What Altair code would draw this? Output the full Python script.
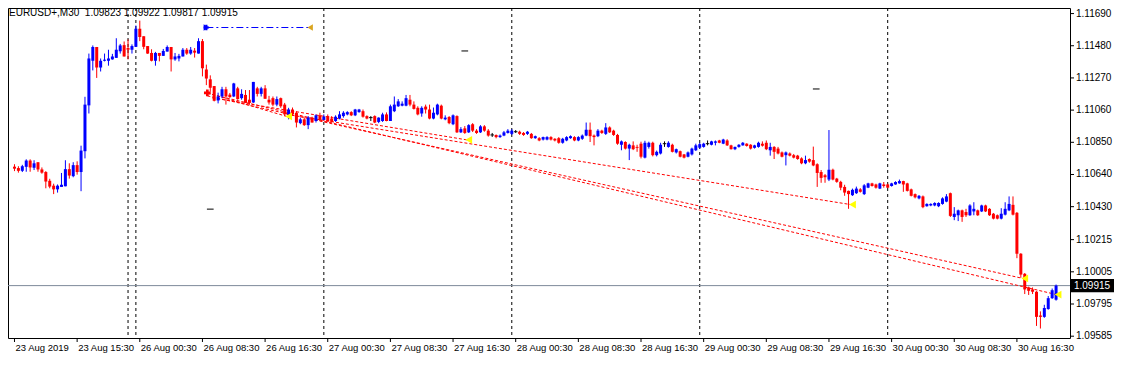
import altair as alt
import pandas as pd
import numpy as np

SYMBOL = "EURUSD+,M30"

OPEN = [1.10691,1.10682,1.10664,1.10690,1.10731,1.10684,1.10720,1.10673,1.10656,1.10599,
1.10567,1.10543,1.10559,1.10563,1.10675,1.10629,1.10701,1.10656,1.10792,1.11091,
1.11382,1.11472,1.11338,1.11382,1.11382,1.11391,1.11401,1.11444,1.11484,1.11465,
1.11454,1.11473,1.11591,1.11542,1.11478,1.11433,1.11382,1.11433,1.11414,1.11442,
1.11472,1.11391,1.11397,1.11410,1.11454,1.11429,1.11448,1.11429,1.11510,1.11325,
1.11261,1.11217,1.11123,1.11149,1.11196,1.11161,1.11149,1.11202,1.11138,1.11159,
1.11128,1.11110,1.11202,1.11166,1.11202,1.11128,1.11138,1.11096,1.11138,1.11096,
1.11032,1.11064,1.11043,1.10975,1.11000,1.10962,1.11011,1.10989,1.11026,1.10996,
1.11021,1.11005,1.10989,1.11005,1.11021,1.11032,1.11047,1.11026,1.11047,1.11053,
1.11021,1.11011,1.11021,1.10983,1.10989,1.11032,1.10989,1.11053,1.11085,1.11089,
1.11089,1.11128,1.11096,1.11075,1.11038,1.11083,1.11064,1.11005,1.11032,1.11089,
1.11000,1.11015,1.10968,1.11021,1.10915,1.10941,1.10915,1.10968,1.10926,1.10915,
1.10954,1.10926,1.10898,1.10898,1.10884,1.10894,1.10911,1.10905,1.10919,1.10919,
1.10911,1.10905,1.10905,1.10877,1.10877,1.10868,1.10868,1.10884,1.10873,1.10877,
1.10847,1.10862,1.10877,1.10884,1.10862,1.10873,1.10894,1.10932,1.10894,1.10890,
1.10926,1.10905,1.10947,1.10926,1.10898,1.10834,1.10852,1.10809,1.10830,1.10820,
1.10841,1.10750,1.10820,1.10847,1.10766,1.10777,1.10841,1.10820,1.10834,1.10784,
1.10792,1.10771,1.10756,1.10771,1.10798,1.10815,1.10820,1.10841,1.10834,1.10847,
1.10862,1.10841,1.10862,1.10830,1.10805,1.10820,1.10830,1.10841,1.10834,1.10814,
1.10820,1.10841,1.10847,1.10798,1.10820,1.10809,1.10784,1.10766,1.10777,1.10766,
1.10763,1.10745,1.10713,1.10741,1.10734,1.10707,1.10656,1.10635,1.10607,1.10671,
1.10613,1.10592,1.10559,1.10533,1.10505,1.10518,1.10543,1.10512,1.10554,1.10582,
1.10575,1.10548,1.10575,1.10575,1.10565,1.10575,1.10582,1.10597,1.10582,1.10543,
1.10512,1.10484,1.10497,1.10433,1.10438,1.10438,1.10433,1.10448,1.10463,1.10518,
1.10363,1.10374,1.10406,1.10395,1.10374,1.10399,1.10406,1.10399,1.10438,1.10416,
1.10384,1.10374,1.10352,1.10378,1.10406,1.10442,1.10390,1.10123,1.09992,1.09903,
1.09890,1.09875,1.09720,1.09711,1.09762,1.09833,1.09823]

HIGH = [1.10707,1.10694,1.10703,1.10739,1.10739,1.10733,1.10720,1.10686,1.10662,1.10612,
1.10580,1.10575,1.10650,1.10733,1.10713,1.10720,1.10726,1.10828,1.11147,1.11429,
1.11482,1.11472,1.11397,1.11429,1.11454,1.11427,1.11529,1.11492,1.11508,1.11521,
1.11489,1.11612,1.11644,1.11542,1.11478,1.11457,1.11440,1.11433,1.11459,1.11482,
1.11472,1.11433,1.11427,1.11465,1.11465,1.11472,1.11465,1.11529,1.11524,1.11357,
1.11287,1.11217,1.11174,1.11212,1.11212,1.11172,1.11238,1.11212,1.11196,1.11191,
1.11191,1.11244,1.11212,1.11212,1.11223,1.11153,1.11149,1.11149,1.11142,1.11107,
1.11075,1.11077,1.11053,1.11011,1.11011,1.11021,1.11017,1.11032,1.11043,1.11032,
1.11032,1.11021,1.11026,1.11053,1.11053,1.11053,1.11053,1.11068,1.11068,1.11064,
1.11026,1.11021,1.11026,1.11013,1.11043,1.11045,1.11096,1.11149,1.11132,1.11117,
1.11159,1.11159,1.11117,1.11085,1.11085,1.11096,1.11096,1.11077,1.11102,1.11096,
1.11026,1.11021,1.11032,1.11026,1.10949,1.10956,1.10968,1.10975,1.10936,1.10962,
1.10962,1.10936,1.10911,1.10901,1.10901,1.10924,1.10936,1.10936,1.10930,1.10926,
1.10917,1.10924,1.10911,1.10894,1.10884,1.10887,1.10890,1.10890,1.10877,1.10884,
1.10879,1.10890,1.10895,1.10890,1.10890,1.10901,1.10979,1.10979,1.10901,1.10936,
1.10932,1.10975,1.10954,1.10932,1.10905,1.10862,1.10857,1.10841,1.10856,1.10834,
1.10854,1.10860,1.10854,1.10854,1.10796,1.10847,1.10856,1.10857,1.10841,1.10809,
1.10796,1.10774,1.10790,1.10815,1.10841,1.10847,1.10847,1.10862,1.10860,1.10862,
1.10866,1.10873,1.10870,1.10834,1.10822,1.10838,1.10852,1.10844,1.10838,1.10834,
1.10854,1.10856,1.10862,1.10847,1.10825,1.10820,1.10790,1.10790,1.10784,1.10774,
1.10768,1.10752,1.10763,1.10745,1.10822,1.10713,1.10669,1.10643,1.10930,1.10678,
1.10618,1.10599,1.10573,1.10535,1.10548,1.10561,1.10551,1.10577,1.10586,1.10586,
1.10580,1.10586,1.10591,1.10580,1.10586,1.10596,1.10607,1.10599,1.10586,1.10548,
1.10516,1.10506,1.10503,1.10452,1.10452,1.10459,1.10459,1.10491,1.10512,1.10522,
1.10427,1.10411,1.10411,1.10416,1.10446,1.10459,1.10411,1.10443,1.10443,1.10420,
1.10389,1.10379,1.10420,1.10459,1.10497,1.10497,1.10395,1.10127,1.09997,1.09908,
1.09903,1.09879,1.09747,1.09790,1.09847,1.09896,1.09922]

LOW = [1.10662,1.10652,1.10656,1.10658,1.10658,1.10669,1.10658,1.10645,1.10550,1.10550,
1.10512,1.10522,1.10559,1.10563,1.10613,1.10622,1.10639,1.10531,1.10745,1.11038,
1.11319,1.11270,1.11312,1.11378,1.11350,1.11389,1.11401,1.11429,1.11410,1.11391,
1.11429,1.11473,1.11510,1.11457,1.11427,1.11378,1.11350,1.11378,1.11414,1.11442,
1.11312,1.11382,1.11378,1.11410,1.11421,1.11421,1.11403,1.11429,1.11280,1.11223,
1.11180,1.11117,1.11104,1.11138,1.11096,1.11140,1.11145,1.11128,1.11128,1.11107,
1.11096,1.11107,1.11149,1.11149,1.11134,1.11096,1.11085,1.11085,1.11075,1.11021,
1.11000,1.11026,1.10947,1.10968,1.10957,1.10936,1.10979,1.10979,1.10989,1.10994,
1.10983,1.10979,1.10983,1.11000,1.11011,1.11026,1.11021,1.11021,1.11043,1.11011,
1.11000,1.10989,1.10975,1.10975,1.10983,1.10987,1.10989,1.11047,1.11081,1.11085,
1.11085,1.11085,1.11064,1.11026,1.11017,1.11038,1.11000,1.11000,1.11026,1.11000,
1.10994,1.10968,1.10962,1.10911,1.10911,1.10905,1.10911,1.10917,1.10905,1.10911,
1.10919,1.10887,1.10885,1.10876,1.10879,1.10890,1.10907,1.10898,1.10911,1.10898,
1.10892,1.10898,1.10873,1.10873,1.10857,1.10862,1.10863,1.10862,1.10856,1.10841,
1.10841,1.10857,1.10873,1.10857,1.10857,1.10866,1.10890,1.10852,1.10830,1.10884,
1.10905,1.10898,1.10911,1.10892,1.10834,1.10798,1.10803,1.10734,1.10799,1.10788,
1.10745,1.10745,1.10809,1.10758,1.10758,1.10771,1.10820,1.10815,1.10784,1.10777,
1.10752,1.10745,1.10752,1.10764,1.10793,1.10809,1.10815,1.10830,1.10830,1.10830,
1.10844,1.10838,1.10826,1.10803,1.10799,1.10815,1.10828,1.10822,1.10803,1.10809,
1.10815,1.10822,1.10799,1.10763,1.10741,1.10771,1.10752,1.10699,1.10758,1.10745,
1.10736,1.10707,1.10707,1.10717,1.10694,1.10559,1.10586,1.10586,1.10597,1.10602,
1.10586,1.10537,1.10501,1.10416,1.10500,1.10513,1.10522,1.10506,1.10551,1.10561,
1.10548,1.10545,1.10554,1.10551,1.10561,1.10573,1.10580,1.10527,1.10529,1.10497,
1.10484,1.10478,1.10420,1.10430,1.10433,1.10433,1.10427,1.10443,1.10459,1.10363,
1.10342,1.10336,1.10331,1.10363,1.10370,1.10374,1.10370,1.10395,1.10395,1.10370,
1.10347,1.10347,1.10347,1.10373,1.10401,1.10373,1.10094,1.09966,1.09860,1.09854,
1.09860,1.09652,1.09635,1.09705,1.09758,1.09828,1.09817]

CLOSE = [1.10678,1.10664,1.10694,1.10731,1.10686,1.10713,1.10673,1.10652,1.10594,1.10561,
1.10543,1.10567,1.10573,1.10675,1.10633,1.10701,1.10656,1.10796,1.11096,1.11397,
1.11472,1.11338,1.11382,1.11389,1.11397,1.11410,1.11454,1.11482,1.11410,1.11454,
1.11478,1.11591,1.11537,1.11473,1.11429,1.11382,1.11433,1.11414,1.11446,1.11472,
1.11391,1.11410,1.11414,1.11454,1.11429,1.11454,1.11435,1.11510,1.11333,1.11266,
1.11206,1.11121,1.11149,1.11196,1.11149,1.11145,1.11234,1.11132,1.11166,1.11107,
1.11107,1.11244,1.11166,1.11202,1.11134,1.11110,1.11096,1.11132,1.11085,1.11032,
1.11064,1.11032,1.10979,1.11000,1.10962,1.11011,1.10979,1.11026,1.10996,1.11017,
1.10989,1.10983,1.11017,1.11032,1.11043,1.11047,1.11026,1.11064,1.11064,1.11017,
1.11005,1.11011,1.10979,1.11011,1.11032,1.10989,1.11085,1.11096,1.11117,1.11102,
1.11138,1.11096,1.11068,1.11032,1.11075,1.11064,1.11005,1.11043,1.11096,1.11005,
1.11011,1.10975,1.11026,1.10915,1.10936,1.10911,1.10962,1.10926,1.10911,1.10954,
1.10926,1.10894,1.10898,1.10884,1.10894,1.10915,1.10926,1.10926,1.10919,1.10905,
1.10898,1.10919,1.10877,1.10890,1.10862,1.10884,1.10884,1.10868,1.10862,1.10847,
1.10873,1.10884,1.10890,1.10862,1.10884,1.10894,1.10932,1.10890,1.10884,1.10926,
1.10911,1.10947,1.10915,1.10898,1.10841,1.10856,1.10809,1.10834,1.10805,1.10814,
1.10756,1.10847,1.10847,1.10766,1.10788,1.10834,1.10841,1.10847,1.10788,1.10805,
1.10756,1.10750,1.10784,1.10809,1.10830,1.10838,1.10841,1.10841,1.10856,1.10856,
1.10847,1.10868,1.10830,1.10805,1.10820,1.10834,1.10847,1.10826,1.10809,1.10830,
1.10847,1.10828,1.10805,1.10820,1.10788,1.10777,1.10756,1.10784,1.10763,1.10750,
1.10741,1.10713,1.10734,1.10724,1.10699,1.10650,1.10618,1.10622,1.10671,1.10607,
1.10592,1.10554,1.10522,1.10512,1.10540,1.10548,1.10527,1.10569,1.10582,1.10565,
1.10554,1.10582,1.10565,1.10554,1.10582,1.10591,1.10597,1.10575,1.10533,1.10501,
1.10491,1.10501,1.10427,1.10448,1.10448,1.10454,1.10454,1.10484,1.10497,1.10370,
1.10384,1.10406,1.10363,1.10374,1.10438,1.10416,1.10374,1.10438,1.10399,1.10374,
1.10352,1.10352,1.10384,1.10416,1.10448,1.10378,1.10123,1.09987,1.09890,1.09881,
1.09875,1.09711,1.09711,1.09769,1.09833,1.09885,1.09915]

# time axis labels (one every 16 bars of 30 minutes)
X_LABELS = ["23 Aug 2019", "23 Aug 15:30", "26 Aug 00:30", "26 Aug 08:30", "26 Aug 16:30",
            "27 Aug 00:30", "27 Aug 08:30", "27 Aug 16:30", "28 Aug 00:30", "28 Aug 08:30",
            "28 Aug 16:30", "29 Aug 00:30", "29 Aug 08:30", "29 Aug 16:30", "30 Aug 00:30",
            "30 Aug 08:30", "30 Aug 16:30"]
X_LABEL_STEP = 16
PRICE_TICKS = [1.11690, 1.11480, 1.11270, 1.11060, 1.10850, 1.10640, 1.10430,
               1.10215, 1.10005, 1.09795, 1.09585]
# period separators (bar index)
SEPARATORS = [29, 31, 79, 127, 175, 223]

# closed trades: open bar/price -> close bar/price
TRADE_OPEN_IDX = [49.25, 50.5, 69.5, 49.25, 49.25]
TRADE_OPEN_PRICE = [1.11172, 1.11140, 1.11032, 1.11153, 1.11169]
TRADE_CLOSE_IDX = [69.5, 115.5, 213.5, 257.5, 266.0]
TRADE_CLOSE_PRICE = [1.11019, 1.10866, 1.10444, 1.09962, 1.09857]

# pending order line
PENDING_START_IDX = 49.0
PENDING_END_IDX = 75.5
PENDING_PRICE = 1.11599

# small black dash objects
DASH_IDX = [115.0, 204.75, 50.0]
DASH_PRICE = [1.11446, 1.11198, 1.10414]

X_DOMAIN = [-0.38, 268.28]
Y_DOMAIN = [1.095732, 1.117263]

W, H = 1062, 330
FONT = "Liberation Sans"

n = len(CLOSE)
df = pd.DataFrame({"i": np.arange(n), "o": OPEN, "h": HIGH, "l": LOW, "c": CLOSE})
df["hi"] = df[["h", "o", "c"]].max(axis=1)
df["lo"] = df[["l", "o", "c"]].min(axis=1)
df["col"] = np.where(df.c > df.o + 1e-9, "#0000FF", np.where(df.c < df.o - 1e-9, "#FF0000", "#000000"))
df["doji"] = (df.c - df.o).abs() < 1e-9

xs = alt.Scale(domain=X_DOMAIN, nice=False, zero=False)
ys = alt.Scale(domain=Y_DOMAIN, nice=False, zero=False)

def X(f, **kw):
    return alt.X(f, type="quantitative", scale=xs, axis=None, **kw)

def Y(f, **kw):
    return alt.Y(f, type="quantitative", scale=ys, axis=None, **kw)

base = alt.Chart(df)

wicks = base.mark_rule(strokeWidth=1).encode(
    x=X("i"), y=Y("lo"), y2="hi", color=alt.Color("col:N", scale=None))
bodies = base.mark_bar(size=3).encode(
    x=X("i"), y=Y("o"), y2="c", color=alt.Color("col:N", scale=None))
dojis = base.transform_filter("datum.doji").mark_point(
    shape="stroke", size=12, filled=False, strokeWidth=1, color="black", opacity=1
).encode(x=X("i"), y=Y("c"))

sep_df = pd.DataFrame({"i": SEPARATORS})
seps = alt.Chart(sep_df).mark_rule(color="black", strokeDash=[3, 3], strokeWidth=1).encode(x=X("i"))

bid_df = pd.DataFrame({"p": [CLOSE[-1]]})
bid = alt.Chart(bid_df).mark_rule(color="#7d8a99", strokeWidth=1).encode(y=Y("p"))

tr_df = pd.DataFrame({"i0": TRADE_OPEN_IDX, "p0": TRADE_OPEN_PRICE,
                      "i1": TRADE_CLOSE_IDX, "p1": TRADE_CLOSE_PRICE})
trades = alt.Chart(tr_df).mark_rule(color="#FF0000", strokeDash=[3, 2], strokeWidth=1).encode(
    x=X("i0"), y=Y("p0"), x2="i1", y2="p1")
close_marks = alt.Chart(tr_df).mark_point(
    shape="triangle-left", size=60, filled=True, color="#FFFF00", opacity=1, xOffset=2
).encode(x=X("i1"), y=Y("p1"))
open_marks = alt.Chart(tr_df.iloc[[0]]).mark_point(
    shape="cross", size=45, filled=True, color="#FF0000", opacity=1
).encode(x=X("i0"), y=Y("p0"))

pend_df = pd.DataFrame({"a": [PENDING_START_IDX], "b": [PENDING_END_IDX], "p": [PENDING_PRICE]})
pend = alt.Chart(pend_df).mark_rule(color="#0000FF", strokeDash=[7, 3, 2, 3], strokeWidth=1).encode(
    x=X("a"), x2="b", y=Y("p"))
pend_l = alt.Chart(pend_df).mark_point(shape="triangle-right", size=40, filled=True,
                                       color="#0000FF", opacity=1).encode(x=X("a"), y=Y("p"))
pend_l2 = alt.Chart(pend_df).mark_point(shape="cross", size=30, filled=True,
                                        color="#0000FF", opacity=1).encode(x=X("a"), y=Y("p"))
pend_r = alt.Chart(pend_df).mark_point(shape="triangle-left", size=40, filled=True,
                                       color="#DAA520", opacity=1).encode(x=X("b"), y=Y("p"))

dash_df = pd.DataFrame({"i": DASH_IDX, "p": DASH_PRICE})
dashes = alt.Chart(dash_df).mark_point(shape="stroke", size=45, filled=False, strokeWidth=1,
                                       color="black", opacity=1).encode(x=X("i"), y=Y("p"))

# price axis on the right (ticks and labels through the y scale)
pt_df = pd.DataFrame({"p": PRICE_TICKS})
y_ticks = alt.Chart(pt_df).mark_rule(color="black", strokeWidth=1).encode(
    y=Y("p"), x=alt.value(W), x2=alt.value(W + 4))
y_labels = alt.Chart(pt_df).mark_text(align="left", baseline="middle", font=FONT, fontSize=10,
                                      color="black").encode(
    y=Y("p"), x=alt.value(W + 6), text=alt.Text("p:Q", format=".5f"))

# time axis at the bottom (ticks and labels through the x scale)
xt_df = pd.DataFrame({"i": [k * X_LABEL_STEP for k in range(len(X_LABELS))], "t": X_LABELS})
x_ticks = alt.Chart(xt_df).mark_rule(color="black", strokeWidth=1).encode(
    x=X("i"), y=alt.value(H), y2=alt.value(H + 4))
x_labels = alt.Chart(xt_df).mark_text(align="left", baseline="top", font=FONT, fontSize=9.5,
                                      color="black", dx=1).encode(
    x=X("i"), y=alt.value(H + 5), text="t:N")

box = alt.Chart(bid_df).mark_point(
    shape="M-1,-0.3L1,-0.3L1,0.3L-1,0.3Z", size=1936, filled=True, color="black", opacity=1
).encode(x=alt.value(W + 22), y=Y("p"))
box_txt = alt.Chart(bid_df).mark_text(color="white", font=FONT, fontSize=10, align="center",
                                      baseline="middle").encode(
    x=alt.value(W + 22), y=Y("p"), text=alt.Text("p:Q", format=".5f"))

header = f"{SYMBOL}\u00a0 {OPEN[-1]:.5f} {HIGH[-1]:.5f} {LOW[-1]:.5f} {CLOSE[-1]:.5f}"
head_df = pd.DataFrame({"t": [header]})
head = alt.Chart(head_df).mark_text(align="left", baseline="middle", font=FONT, fontSize=10,
                                    color="black").encode(
    x=alt.value(1), y=alt.value(5), text="t:N")

chart = alt.layer(
    seps, bid, trades, pend, wicks, bodies, dojis, close_marks, open_marks,
    pend_l2, pend_l, pend_r, dashes, y_ticks, y_labels, x_ticks, x_labels, box, box_txt, head
).properties(
    width=W, height=H,
    autosize=alt.AutoSizeParams(type="none"),
    padding={"left": 0, "top": 0, "right": 44, "bottom": 17},
    background="white",
).configure_view(stroke="black", strokeWidth=1)

chart.save("out.html", embed_options={"renderer": "svg", "actions": False})
